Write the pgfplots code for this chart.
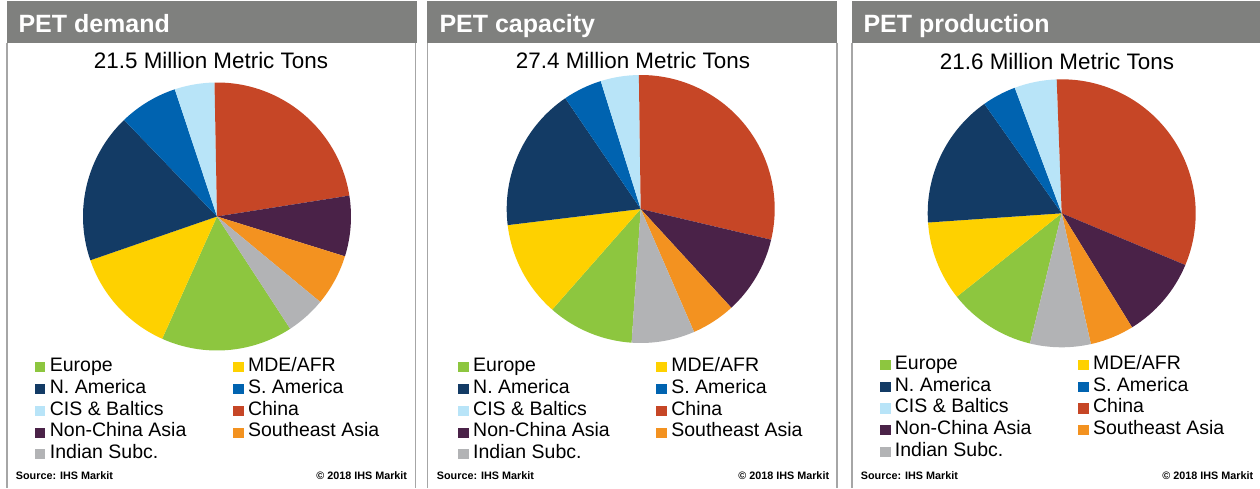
\documentclass[border=0pt]{standalone}
\usepackage{pgfplots}
\pgfplotsset{compat=1.18}
\usepackage{pgfplotstable}
\usepackage{fontspec}
\setmainfont{Liberation Sans}

\definecolor{cEur}{HTML}{8DC63F}
\definecolor{cMde}{HTML}{FED100}
\definecolor{cNam}{HTML}{133B65}
\definecolor{cSam}{HTML}{0063B0}
\definecolor{cCis}{HTML}{B8E4F8}
\definecolor{cChi}{HTML}{C64626}
\definecolor{cNca}{HTML}{4A2248}
\definecolor{cSea}{HTML}{F39220}
\definecolor{cInd}{HTML}{B2B3B5}
\definecolor{hdr}{HTML}{7F807E}
\definecolor{bord}{HTML}{A6A6A6}

% shares in percent, in data (legend) order; drawn clockwise
\pgfplotstableread{
region pct col
Europe 15.9 cEur
MDE/AFR 13.0 cMde
N.America 18.1 cNam
S.America 7.1 cSam
CIS&Baltics 4.8 cCis
China 22.8 cChi
Non-ChinaAsia 7.3 cNca
SoutheastAsia 6.2 cSea
IndianSubc. 4.8 cInd
}\demand
\pgfplotstableread{
region pct col
Europe 10.4 cEur
MDE/AFR 11.6 cMde
N.America 17.4 cNam
S.America 4.7 cSam
CIS&Baltics 4.6 cCis
China 28.9 cChi
Non-ChinaAsia 9.5 cNca
SoutheastAsia 5.3 cSea
IndianSubc. 7.6 cInd
}\capacity
\pgfplotstableread{
region pct col
Europe 10.5 cEur
MDE/AFR 9.6 cMde
N.America 16.3 cNam
S.America 4.1 cSam
CIS&Baltics 5.1 cCis
China 31.9 cChi
Non-ChinaAsia 9.9 cNca
SoutheastAsia 5.3 cSea
IndianSubc. 7.3 cInd
}\production

\makeatletter
% #1 table, #2 start angle (clockwise from 12 o'clock), #3 cx, #4 cy, #5 output macro
\newcommand\buildpie[5]{%
  \xdef\pie@cum{#2}%
  \gdef#5{}%
  \pgfplotstablegetrowsof{#1}%
  \pgfmathtruncatemacro\pie@max{\pgfplotsretval-1}%
  \foreach \i in {0,...,\pie@max}{%
    \pgfplotstablegetelem{\i}{pct}\of{#1}\let\pie@pct\pgfplotsretval
    \pgfplotstablegetelem{\i}{col}\of{#1}\let\pie@col\pgfplotsretval
    \pgfmathsetmacro\pie@a{90-\pie@cum}%
    \pgfmathsetmacro\pie@b{\pie@a-3.6*\pie@pct}%
    \pgfmathsetmacro\pie@x{#3+134*cos(\pie@a)}%
    \pgfmathsetmacro\pie@y{#4+134*sin(\pie@a)}%
    \xdef#5{\unexpanded\expandafter{#5}\noexpand\fill[\pie@col] (axis cs:#3,#4) -- (axis cs:\pie@x,\pie@y) arc[start angle=\pie@a, end angle=\pie@b, radius=134pt] -- cycle;}%
    \pgfmathsetmacro\pie@t{\pie@cum+3.6*\pie@pct}%
    \xdef\pie@cum{\pie@t}%
  }%
}
\makeatother

\buildpie{\demand}{146.9}{210}{271.5}{\DemPie}
\buildpie{\capacity}{183.9}{213.2}{279}{\CapPie}
\buildpie{\production}{193.7}{209.7}{274.7}{\ProPie}

\pgfplotsset{
  panel/.style={anchor=south west, x=1pt, y=1pt, ymin=0, ymax=488, hide axis, clip=false,
    legend image code/.code={\fill[##1] (0pt,-4.6pt) rectangle (9.5pt,4.6pt);},
    legend columns=2, legend cell align=left,
    legend style={anchor=north west, draw=none, fill=none, inner sep=0pt, outer sep=0pt,
      font=\fontsize{19.5}{21.75}\selectfont, row sep=0pt,
      nodes={inner sep=0pt, text height=15.5pt, text depth=6.25pt},
      /tikz/every odd column/.style={column sep=5pt},
      /tikz/every even column/.style={column sep=46.7pt}}},
}
\tikzset{
  hdrtext/.style={anchor=base west, text=white, font=\bfseries\fontsize{25}{30}\selectfont, inner sep=0pt},
  subtext/.style={anchor=base, font=\fontsize{22.4}{26}\selectfont, inner sep=0pt},
  srctext/.style={font=\bfseries\fontsize{10.8}{13}\selectfont, inner sep=0pt},
}
\newcommand\legendall{%
  \addlegendimage{cEur}\addlegendentry{Europe}
  \addlegendimage{cMde}\addlegendentry{MDE/AFR}
  \addlegendimage{cNam}\addlegendentry{N. America}
  \addlegendimage{cSam}\addlegendentry{S. America}
  \addlegendimage{cCis}\addlegendentry{CIS \& Baltics}
  \addlegendimage{cChi}\addlegendentry{China}
  \addlegendimage{cNca}\addlegendentry{Non-China Asia}
  \addlegendimage{cSea}\addlegendentry{Southeast Asia}
  \addlegendimage{cInd}\addlegendentry{Indian Subc.}
}

\begin{document}
\begin{tikzpicture}
\path[use as bounding box, fill=white] (0pt,0pt) rectangle (1260pt,488pt);

% ---------- PET demand ----------
\begin{axis}[panel, at={(7pt,0pt)}, xmin=0, xmax=409.5,
  legend style={at={(0.06838,0.27008)}}]
  \fill[hdr] (axis cs:-0.5,487) rectangle (axis cs:409.5,445.3);
  \draw[bord, line width=1.3pt] (axis cs:0,445.3) -- (axis cs:0,0);
  \draw[bord, line width=1.3pt] (axis cs:408.7,445.3) -- (axis cs:408.7,0);
  \node[hdrtext] at (axis cs:11.3,455.7) {PET demand};
  \node[subtext] at (axis cs:204,419.7) {21.5 Million Metric Tons};
  \DemPie
  \legendall
  \node[srctext, anchor=base west] at (axis cs:8.7,9) {Source: IHS Markit};
  \node[srctext, anchor=base east] at (axis cs:400.3,9) {© 2018 IHS Markit};
\end{axis}

% ---------- PET capacity ----------
\begin{axis}[panel, at={(427.5pt,0pt)}, xmin=0, xmax=409.5,
  legend style={at={(0.07521,0.27008)}}]
  \fill[hdr] (axis cs:-0.5,487) rectangle (axis cs:409.5,445.3);
  \draw[bord, line width=1.3pt] (axis cs:0,445.3) -- (axis cs:0,0);
  \draw[bord, line width=1.3pt] (axis cs:409.5,445.3) -- (axis cs:409.5,0);
  \node[hdrtext] at (axis cs:11.8,455.3) {PET capacity};
  \node[subtext] at (axis cs:205.5,419.7) {27.4 Million Metric Tons};
  \CapPie
  \legendall
  \node[srctext, anchor=base west] at (axis cs:9.2,9) {Source: IHS Markit};
  \node[srctext, anchor=base east] at (axis cs:401.8,9) {© 2018 IHS Markit};
\end{axis}

% ---------- PET production ----------
\begin{axis}[panel, at={(852pt,0pt)}, xmin=0, xmax=408,
  legend style={at={(0.06863,0.27500)}}]
  \fill[hdr] (axis cs:-0.5,487) rectangle (axis cs:408,445.3);
  \draw[bord, line width=1.3pt] (axis cs:0,445.3) -- (axis cs:0,0);
  \node[hdrtext] at (axis cs:11.3,455.7) {PET production};
  \node[subtext] at (axis cs:205,418) {21.6 Million Metric Tons};
  \ProPie
  \legendall
  \node[srctext, anchor=base west] at (axis cs:8.7,9) {Source: IHS Markit};
  \node[srctext, anchor=base east] at (axis cs:401.3,9) {© 2018 IHS Markit};
\end{axis}
\end{tikzpicture}
\end{document}
